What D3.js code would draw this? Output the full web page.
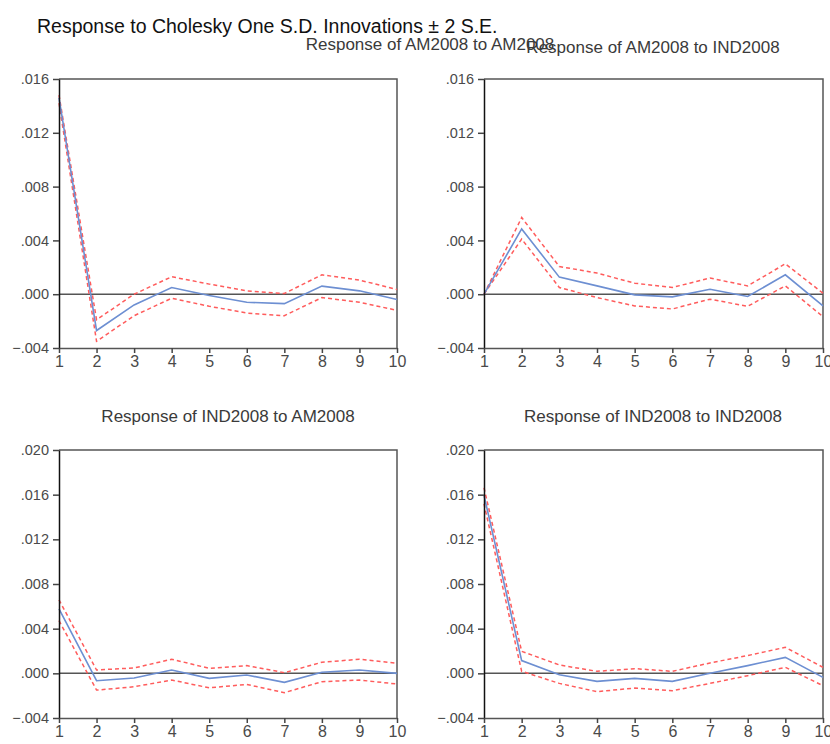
<!DOCTYPE html>
<html><head><meta charset="utf-8">
<script src="https://cdn.jsdelivr.net/npm/d3@7"></script>
<style>
html,body{margin:0;padding:0;background:#fff;}
svg{display:block;font-family:"Liberation Sans",Arial,sans-serif;}
</style></head>
<body><svg id="c" width="830" height="744"></svg>
<script>
const steps = [1,2,3,4,5,6,7,8,9,10];
const mainTitle = "Response to Cholesky One S.D. Innovations \u00b1 2 S.E.";
const panelTitles = ["Response of AM2008 to AM2008","Response of AM2008 to IND2008","Response of IND2008 to AM2008","Response of IND2008 to IND2008"];
const yTicksTop = [-0.004,0,0.004,0.008,0.012,0.016];
const yTicksBottom = [-0.004,0,0.004,0.008,0.012,0.016,0.020];

// Response of AM2008 to AM2008
const amAmResp  = [0.0146,-0.0027,-0.0008,0.0005,-0.0001,-0.0006,-0.0007,0.0006,0.00025,-0.0004];
const amAmUpper = [0.0148,-0.0019,0.0000,0.0013,0.00075,0.00025,0.00005,0.00144,0.00105,0.00035];
const amAmLower = [0.0142,-0.0035,-0.0016,-0.0003,-0.0009,-0.0014,-0.0016,-0.00025,-0.0006,-0.0012];
// Response of AM2008 to IND2008
const amIndResp  = [0,0.00485,0.00127,0.00062,-0.00005,-0.0002,0.00037,-0.00017,0.00144,-0.00087];
const amIndUpper = [0,0.0057,0.00206,0.00157,0.00082,0.0005,0.0012,0.00062,0.00226,0.00007];
const amIndLower = [0,0.0041,0.0005,-0.00025,-0.00087,-0.0011,-0.00037,-0.0009,0.00062,-0.00167];
// Response of IND2008 to AM2008
const indAmResp  = [0.00577,-0.00066,-0.00042,0.0003,-0.00045,-0.00015,-0.00081,0.0001,0.0003,0];
const indAmUpper = [0.00658,0.0003,0.00048,0.00126,0.00045,0.00069,0.00006,0.00099,0.00126,0.0009];
const indAmLower = [0.00472,-0.0015,-0.0012,-0.0006,-0.0013,-0.00099,-0.00173,-0.00075,-0.0006,-0.00096];
// Response of IND2008 to IND2008
const indIndResp  = [0.01594,0.00114,-0.00012,-0.00072,-0.00045,-0.00072,0,0.00069,0.00143,-0.00036];
const indIndUpper = [0.01662,0.00197,0.00075,0.00018,0.00042,0.00018,0.00093,0.00159,0.00233,0.00054];
const indIndLower = [0.01518,0.00018,-0.0009,-0.00164,-0.00132,-0.00156,-0.0009,-0.00021,0.00054,-0.00111];

const svg = d3.select("#c");
const FONT = "'Liberation Sans',Arial,sans-serif";

svg.append("text").attr("x",37).attr("y",33).attr("font-size",19.5)
  .attr("fill","#111").text(mainTitle);

const panels = [
  {title:panelTitles[0], resp:amAmResp, up:amAmUpper, lo:amAmLower, ticks:yTicksTop,
   x0:59, x1:397, y0:79, y1:348, tx:430, ty:50},
  {title:panelTitles[1], resp:amIndResp, up:amIndUpper, lo:amIndLower, ticks:yTicksTop,
   x0:484, x1:823, y0:79, y1:348, tx:653, ty:53},
  {title:panelTitles[2], resp:indAmResp, up:indAmUpper, lo:indAmLower, ticks:yTicksBottom,
   x0:59, x1:397, y0:450, y1:718, tx:228, ty:422},
  {title:panelTitles[3], resp:indIndResp, up:indIndUpper, lo:indIndLower, ticks:yTicksBottom,
   x0:484, x1:823, y0:450, y1:718, tx:653, ty:422}
];

const fmt = v => { if (Math.abs(v) < 1e-12) return ".000"; const s = d3.format(".3f")(v); return s.replace("0.", "."); };

panels.forEach(p => {
  const x = d3.scaleLinear().domain([1,10]).range([p.x0,p.x1]);
  const y = d3.scaleLinear().domain([p.ticks[0], p.ticks[p.ticks.length-1]]).range([p.y1,p.y0]);
  const g = svg.append("g");

  g.append("text").attr("x",p.tx).attr("y",p.ty).attr("text-anchor","middle")
    .attr("font-size",17).attr("fill","#3a3a3a").text(p.title);

  g.append("path").attr("d",`M${p.x0},${p.y0}H${p.x1}V${p.y1}`)
    .attr("fill","none").attr("stroke","#555").attr("stroke-width",1.5);

  g.append("line").attr("x1",p.x0).attr("x2",p.x1).attr("y1",y(0)).attr("y2",y(0))
    .attr("stroke","#555").attr("stroke-width",1.5);

  const line = d3.line().x((d,i)=>x(steps[i])).y(d=>y(d));
  g.append("path").datum(p.up).attr("d",line).attr("fill","none")
    .attr("stroke","#ff5c5c").attr("stroke-width",1.5).attr("stroke-dasharray","4,3");
  g.append("path").datum(p.lo).attr("d",line).attr("fill","none")
    .attr("stroke","#ff5c5c").attr("stroke-width",1.5).attr("stroke-dasharray","4,3");
  g.append("path").datum(p.resp).attr("d",line).attr("fill","none")
    .attr("stroke","#6d8fd2").attr("stroke-width",1.6);

  const ya = d3.axisLeft(y).tickValues(p.ticks).tickFormat(fmt).tickSize(6).tickSizeOuter(0).tickPadding(4);
  const yg = g.append("g").attr("transform",`translate(${p.x0},0)`).call(ya);
  yg.select(".domain").attr("stroke","#111").attr("stroke-width",1.5);
  yg.selectAll(".tick line").attr("stroke","#444").attr("stroke-width",1.5);
  yg.selectAll(".tick text").attr("font-size",14.5).attr("font-family",FONT).attr("fill","#4a4a4a");

  const xa = d3.axisBottom(x).tickValues(steps).tickFormat(d3.format("d")).tickSize(5).tickSizeOuter(0).tickPadding(3);
  const xg = g.append("g").attr("transform",`translate(0,${p.y1})`).call(xa);
  xg.select(".domain").attr("stroke","#555").attr("stroke-width",1.5);
  xg.selectAll(".tick line").attr("stroke","#444").attr("stroke-width",1.5);
  xg.selectAll(".tick text").attr("font-size",16).attr("font-family",FONT).attr("fill","#4a4a4a");
});
</script></body></html>
